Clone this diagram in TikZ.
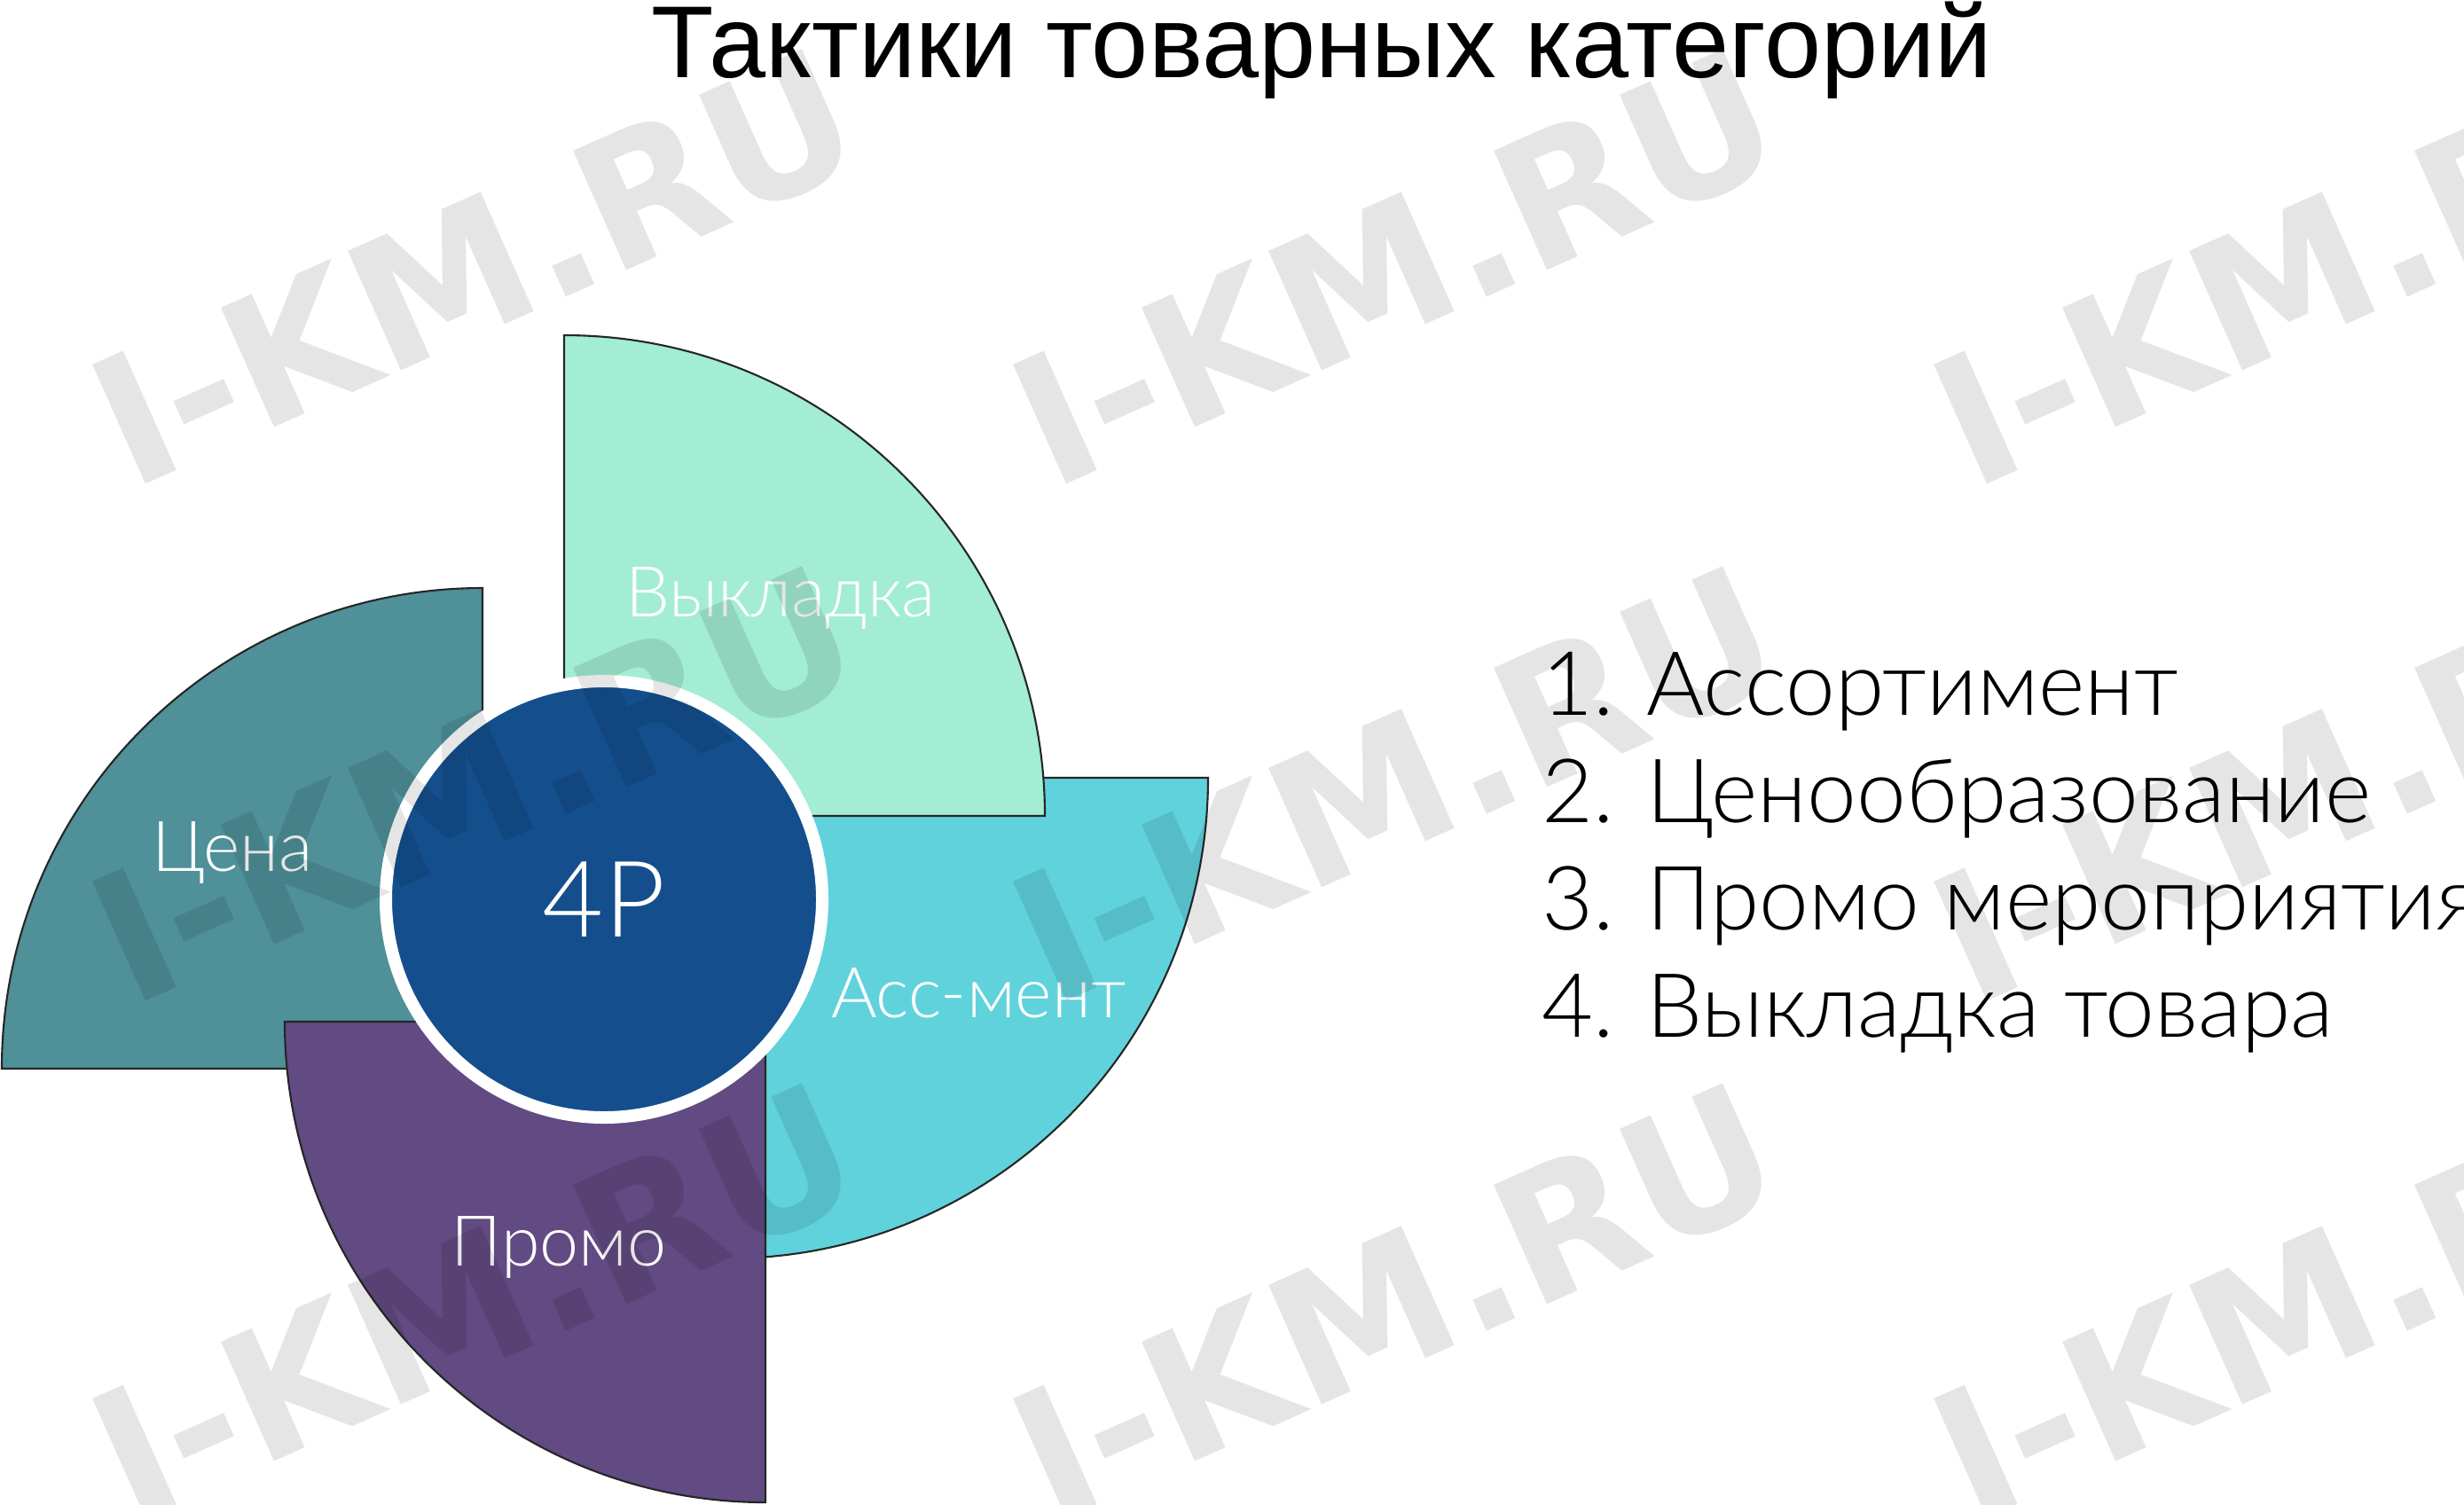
\documentclass[tikz,border=0pt]{standalone}
\usepackage{fontspec}
\setmainfont{Lato Light}
\newfontfamily\titlefont{Liberation Sans}
\newfontfamily\wmfont{DejaVu Sans}
\usetikzlibrary{positioning}

\definecolor{vykcol}{HTML}{A2EDD4}
\definecolor{asscol}{HTML}{60D2DC}
\definecolor{cenacol}{HTML}{4F9099}
\definecolor{promocol}{HTML}{624A82}
\definecolor{navy}{HTML}{144E8D}

\begin{document}
\begin{tikzpicture}[sector/.style={draw=black!85,line width=0.6pt},
	lbl/.style={text=white,anchor=base,inner sep=0pt,font=\fontsize{22.5}{26}\selectfont},
	item/.style={anchor=base west,inner sep=0pt,font=\fontsize{28.5}{34}\selectfont},
	wm/.style={rotate=24,inner sep=0pt,text=black,text opacity=0.1,font=\wmfont\bfseries\fontsize{57.5}{62}\selectfont}]

\useasboundingbox (0,0) rectangle (27.78,-16.96);
\fill[white] (0,0) rectangle (27.78,-16.96);

\node[anchor=base,inner sep=0pt,font=\titlefont\fontsize{32.8}{36}\selectfont]   (title) at (14.90,-0.87)   {Тактики товарных категорий};

% four quarters of the 4P pinwheel
\filldraw[sector,fill=asscol]   (8.20,-8.77) -- ++(5.42,0) arc[start angle=0,end angle=-90,radius=5.42] -- cycle;
\filldraw[sector,fill=vykcol]   (6.36,-9.20) -- ++(5.42,0) arc[start angle=0,end angle=90,radius=5.42] -- cycle;
\filldraw[sector,fill=cenacol]   (5.44,-12.05) -- ++(0,5.42) arc[start angle=90,end angle=180,radius=5.42] -- cycle;
\filldraw[sector,fill=promocol]   (8.63,-11.52) -- ++(-5.42,0) arc[start angle=180,end angle=270,radius=5.42] -- cycle;

\node[circle,fill=navy,draw=white,line width=0.14cm,minimum size=4.92cm,inner sep=0pt,text=white,font=\fontsize{34}{40}\selectfont]   (p4) at (6.81,-10.14)   {4P};

\node[lbl]   (vyk) at (8.80,-6.95)   {Выкладка};
\node[lbl]   (cena) at (2.62,-9.82)   {Цена};
\node[lbl]   (ass) at (11.03,-11.47)   {Асс-мент};
\node[lbl]   (promo) at (6.30,-14.27)   {Промо};

% list on the right
\node[item]   (l1) at (17.38,-8.06)   {1. Ассортимент};
\node[item,below=1.21cm of l1.base west,anchor=base west]   (l2)   {2. Ценообразование};
\node[item,below=1.21cm of l2.base west,anchor=base west]   (l3)   {3. Промо мероприятия};
\node[item,below=1.21cm of l3.base west,anchor=base west]   (l4)   {4. Выкладка товара};

% watermark
\node[wm]   (wm1) at (5.35,-3.02)   {I-KM.RU};
\node[wm]   (wm2) at (15.73,-3.02)   {I-KM.RU};
\node[wm]   (wm3) at (26.11,-3.02)   {I-KM.RU};
\node[wm]   (wm4) at (5.35,-8.85)   {I-KM.RU};
\node[wm]   (wm5) at (15.73,-8.85)   {I-KM.RU};
\node[wm]   (wm6) at (26.11,-8.85)   {I-KM.RU};
\node[wm]   (wm7) at (5.35,-14.68)   {I-KM.RU};
\node[wm]   (wm8) at (15.73,-14.68)   {I-KM.RU};
\node[wm]   (wm9) at (26.11,-14.68)   {I-KM.RU};

\end{tikzpicture}
\end{document}
